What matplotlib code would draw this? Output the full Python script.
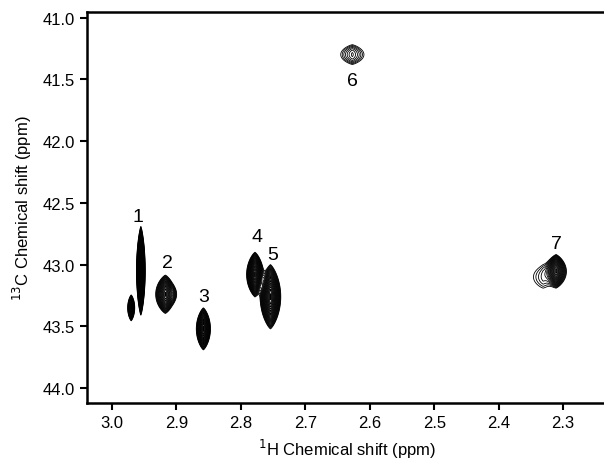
import numpy as np
import matplotlib
matplotlib.use("Agg")
import matplotlib.pyplot as plt

plt.rcParams['font.family'] = ['Liberation Sans', 'DejaVu Sans']

# Peak list: 1H shift, 13C shift, half-extent of outer contour (ppm), number of contour rings
peak_h = [2.955, 2.970, 2.917, 2.905, 2.858, 2.778, 2.754, 2.627, 2.311, 2.331]
peak_c = [43.05, 43.35, 43.24, 43.24, 43.52, 43.08, 43.26, 41.30, 43.05, 43.10]
half_h = [0.0068, 0.0055, 0.015, 0.003, 0.011, 0.013, 0.016, 0.018, 0.015, 0.015]
half_c = [0.36, 0.105, 0.155, 0.04, 0.17, 0.18, 0.26, 0.08, 0.13, 0.09]
rings = [22, 12, 18, 3, 18, 20, 22, 6, 18, 3]

label_text = ['1', '2', '3', '4', '5', '6', '7']
label_h = [2.959, 2.913, 2.857, 2.775, 2.751, 2.627, 2.311]
label_c = [42.61, 42.98, 43.255, 42.77, 42.92, 41.51, 42.83]

xticks = [3.0, 2.9, 2.8, 2.7, 2.6, 2.5, 2.4, 2.3]
yticks = [41.0, 41.5, 42.0, 42.5, 43.0, 43.5, 44.0]

xlim = (3.039, 2.232)
ylim = (44.12, 40.953)

fig = plt.figure(figsize=(6.04, 4.64), dpi=100)
ax = fig.add_axes([86.7 / 604, 60 / 464, (607 - 86.7) / 604, (404 - 12.7) / 464])

xs = np.linspace(2.22, 3.05, 2400)
ys = np.linspace(40.9, 44.2, 1500)
X, Y = np.meshgrid(xs, ys)
Z = np.zeros_like(X)
ratio = 1.2
base = 1.0
px = 1.25
for h, c, wh, wc, n in zip(peak_h, peak_c, half_h, half_c, rings):
    amp = base * ratio ** n * 1.05
    L = np.log(amp / base)
    sx = wh / L ** (1 / px)
    sy = wc / L ** 0.5
    Z += amp * np.exp(-(np.abs((X - h) / sx) ** px + ((Y - c) / sy) ** 2))

levels = base * ratio ** np.arange(0, 30)
ax.contour(X, Y, Z, levels=levels, colors='black', linewidths=0.6)

for t, h, c in zip(label_text, label_h, label_c):
    ax.text(h, c, t, fontsize=14, ha='center', va='center', color='black')

ax.set_xlim(*xlim)
ax.set_ylim(*ylim)
ax.set_xticks(xticks)
ax.set_yticks(yticks)
ax.set_xticklabels([f"{v:.1f}" for v in xticks])
ax.set_yticklabels([f"{v:.1f}" for v in yticks])
ax.tick_params(direction='out', length=5, width=1.5, labelsize=12, colors='black')
for s in ax.spines.values():
    s.set_linewidth(1.8)
ax.set_xlabel(r'$^{1}$H Chemical shift (ppm)', fontsize=12, labelpad=5)
ax.set_ylabel(r'$^{13}$C Chemical shift (ppm)', fontsize=12, labelpad=6)

fig.savefig('out.png', dpi=100)
